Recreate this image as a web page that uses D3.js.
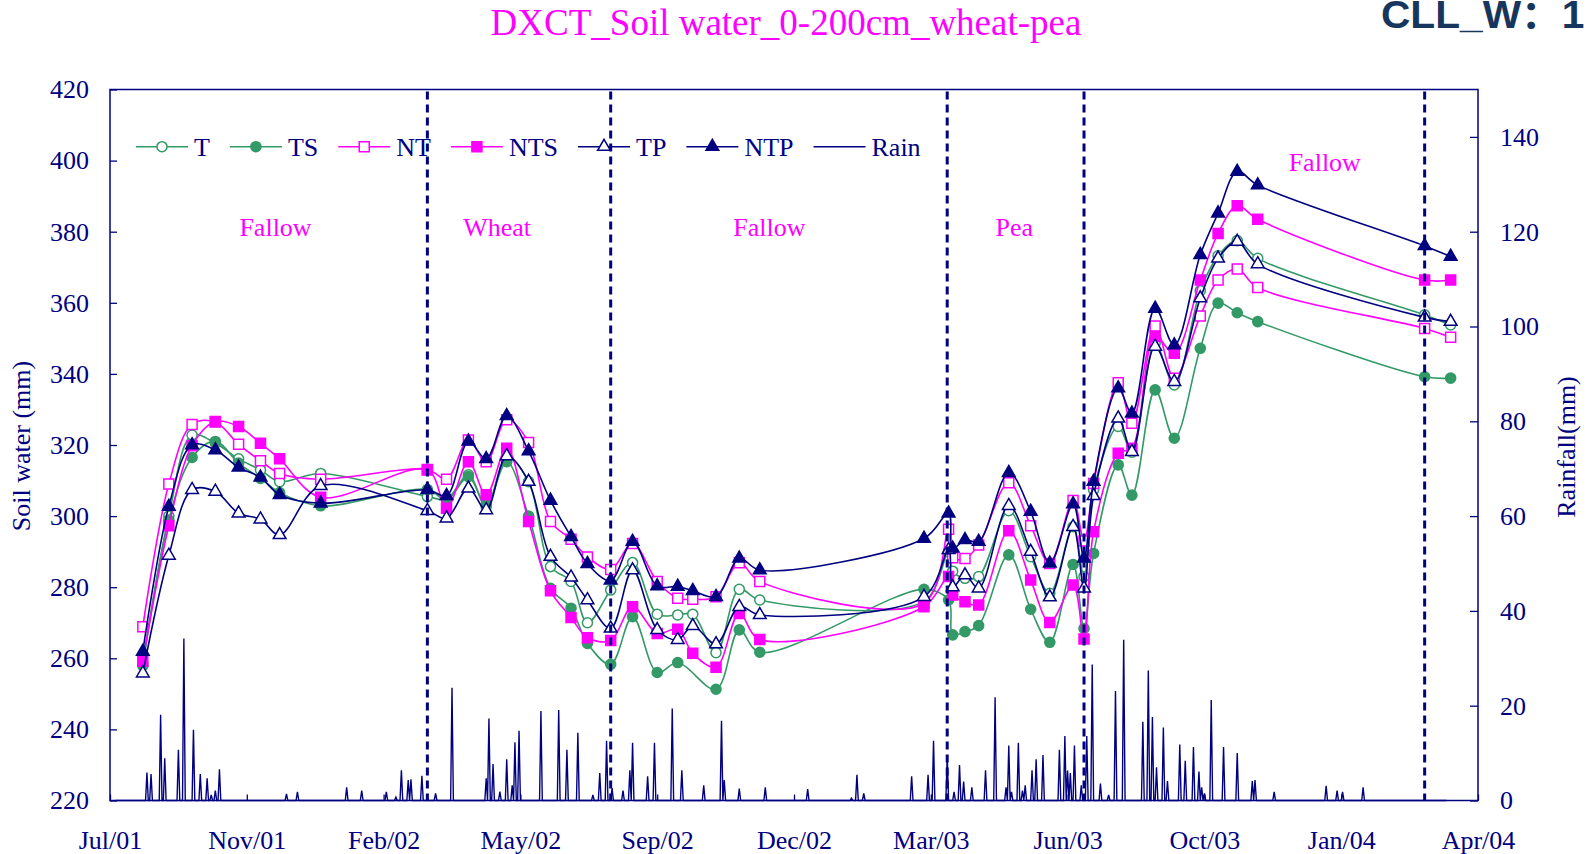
<!DOCTYPE html>
<html><head><meta charset="utf-8">
<script src="https://cdn.jsdelivr.net/npm/d3@7"></script>
<style>body{margin:0;background:#fff;overflow:hidden} svg{display:block}</style>
</head><body>
<svg id="chart" width="1594" height="854"></svg>
<script>
// ---------------- DATA ----------------
const sampleDates = ["2001-08-21","2001-09-09","2001-09-26","2001-10-13","2001-10-30","2001-11-15","2001-11-29","2001-12-29",
 "2002-03-17","2002-03-31","2002-04-16","2002-04-29","2002-05-14","2002-05-30","2002-06-15","2002-06-30","2002-07-12","2002-07-29",
 "2002-08-14","2002-09-01","2002-09-16","2002-09-27","2002-10-14","2002-10-31","2002-11-15",
 "2003-03-15","2003-04-02","2003-04-05","2003-04-14","2003-04-24","2003-05-16","2003-06-01","2003-06-15","2003-07-02","2003-07-10","2003-07-17",
 "2003-08-04","2003-08-14","2003-08-31","2003-09-14","2003-10-03","2003-10-16","2003-10-30","2003-11-14","2004-03-15","2004-04-03"];
const T   = [258.5,300.0,322.8,320.5,316.1,313.0,309.7,312.0, 305.5,304.8,311.6,302.7,316.5,309.7,285.8,281.6,270.0,279.2,
 286.9,272.4,272.2,272.4,261.6,279.4,276.4, 276.0,290.0,284.5,282.5,283.0,301.5,288.6,278.3,297.0,283.0,307.4,
 325.2,318.0,348.6,336.9,363.4,373.2,377.5,372.5,356.6,353.8];
const TS  = [257.9,298.9,316.5,321.0,314.9,310.6,306.6,302.9, 307.5,304.5,311.1,303.1,315.3,300.0,279.7,274.1,264.2,258.3,
 271.7,256.0,258.8,null,251.3,268.0,261.7, 279.4,276.4,266.6,267.5,269.2,289.1,273.8,264.5,286.4,268.4,289.5,
 314.4,305.9,335.5,321.9,347.2,359.9,357.2,354.7,339.2,338.8];
const NT  = [268.9,309.0,325.8,326.5,320.2,315.6,312.0,310.4, 313.1,310.4,321.4,315.3,327.1,320.7,298.5,293.5,288.5,285.0,
 292.3,281.6,276.9,276.6,277.3,286.9,281.6, 275.5,296.3,288.3,288.1,291.9,309.4,297.3,286.7,304.4,293.0,309.2,
 337.5,326.1,353.5,338.8,356.3,366.4,369.5,364.3,352.8,350.3];
const NTS = [259.2,297.3,319.8,326.6,325.2,320.5,316.1,305.3, 313.0,302.2,315.3,306.0,319.1,298.5,279.0,271.5,265.8,265.0,
 274.5,267.0,268.2,261.4,257.5,272.6,265.3, 274.5,283.0,277.8,275.9,275.0,295.9,282.0,270.1,280.6,265.4,295.6,
 317.7,319.1,350.5,345.8,366.4,379.5,387.3,383.5,366.4,366.4];
const TP  = [255.8,288.9,307.4,306.9,300.8,299.1,294.7,308.5, 301.5,299.4,307.8,301.7,316.9,309.7,288.6,282.8,276.4,268.4,
 284.8,268.0,265.2,269.1,264.0,274.5,272.2, 277.3,290.5,280.0,283.4,279.7,302.9,290.0,277.2,297.0,279.7,305.7,
 327.5,318.1,347.7,337.8,361.3,372.5,377.2,370.9,355.9,354.7];
const NTP = [261.9,302.7,320.0,318.6,313.7,310.9,306.0,303.6, 307.4,305.7,321.0,316.1,328.2,318.3,304.4,294.2,286.6,281.9,
 292.8,280.3,280.2,279.0,277.3,288.1,284.8, 293.7,300.8,290.9,293.3,292.8,312.2,301.3,286.7,303.4,288.1,309.7,
 336.0,328.9,358.4,348.1,373.5,385.2,396.9,393.1,376.0,373.0];

const rainDates = ["2001-08-24","2001-08-27","2001-09-03","2001-09-06","2001-09-16","2001-09-20","2001-09-27","2001-10-02","2001-10-07","2001-10-10","2001-10-13","2001-10-16",
 "2001-12-04","2001-12-12","2002-01-17","2002-01-28","2002-02-15","2002-02-22","2002-02-26","2002-03-03","2002-03-05","2002-03-13","2002-03-23",
 "2002-04-04","2002-04-29","2002-05-01","2002-05-04","2002-05-09","2002-05-14","2002-05-18","2002-05-20","2002-05-23","2002-06-08","2002-06-21","2002-06-27",
 "2002-07-05","2002-07-16","2002-07-21","2002-07-26","2002-07-30","2002-08-07","2002-08-12","2002-08-14","2002-08-25","2002-08-30","2002-09-12","2002-09-19",
 "2002-10-05","2002-10-18","2002-10-20","2002-10-31","2002-11-19","2002-12-20","2003-01-21","2003-01-25","2003-01-30","2003-03-06","2003-03-18","2003-03-22",
 "2003-04-01","2003-04-06","2003-04-10","2003-04-13","2003-04-19","2003-04-29","2003-05-06","2003-05-14","2003-05-16","2003-05-18","2003-05-23","2003-05-26","2003-05-28",
 "2003-06-02","2003-06-05","2003-06-10","2003-06-22","2003-06-26","2003-06-28","2003-06-30","2003-07-03","2003-07-08","2003-07-12","2003-07-16","2003-07-22","2003-07-28",
 "2003-08-02","2003-08-08","2003-08-22","2003-08-26","2003-08-29","2003-09-01","2003-09-06","2003-09-09","2003-09-18","2003-09-22","2003-09-28",
 "2003-10-02","2003-10-04","2003-10-06","2003-10-11","2003-10-20","2003-10-30","2003-11-10","2003-11-12","2003-11-26",
 "2004-01-03","2004-01-11","2004-01-15","2004-01-30"];
const rainValues = [5.9,5.6,18.1,8.9,10.7,34.2,14.9,5.6,4.7,1.2,2.1,6.6,
 1.4,1.8,2.8,2.1,1.8,0.7,6.4,4.3,4.5,5.2,1.5,
 23.8,4.7,17.3,7.7,1.9,8.7,3.2,12.3,14.7,18.9,19.1,10.7,
 14.3,1.2,5.8,12.6,2.6,2.1,6.4,12.2,5.1,12.2,19.4,6.4,
 3.2,16.8,4.3,2.5,2.8,2.4,0.5,5.4,1.5,5.1,5.4,12.6,
 9.3,1.8,7.5,4.0,2.8,6.4,21.8,2.8,11.6,1.8,12.2,2.1,3.2,
 6.4,8.7,9.6,10.7,13.6,6.3,5.8,11.6,3.2,13.6,28.7,3.6,1.2,
 23.1,33.9,16.6,27.4,17.6,7.0,15.4,4.1,11.8,8.4,11.3,
 6.1,2.8,1.5,21.2,11.3,10.0,4.1,4.3,1.8,
 3.1,2.1,1.8,2.8];
const rainStart = "2001-08-01", rainEnd = "2004-03-31";

const boundaryDates = ["2002-03-17","2002-07-29","2003-04-01","2003-07-10","2004-03-15"];
const stageNames  = ["Fallow","Wheat","Fallow","Pea","Fallow"];
const stageDates  = ["2001-11-26","2002-05-07","2002-11-22","2003-05-20","2004-01-02"];
const stageLevels = [378.8,378.8,378.8,378.8,397.2];

const leftTicks  = [220,240,260,280,300,320,340,360,380,400,420];
const rightTicks = [0,20,40,60,80,100,120,140];
const xTickLabels = ["Jul/01","Nov/01","Feb/02","May/02","Sep/02","Dec/02","Mar/03","Jun/03","Oct/03","Jan/04","Apr/04"];
const xStart = "2001-07-28", xEnd = "2004-04-23", xTickStepDays = 100;

const seriesNames = ["T","TS","NT","NTS","TP","NTP"];
const seriesData  = [T,TS,NT,NTS,TP,NTP];

// ---------------- STYLE ----------------
const GREEN = "#339966", MAG = "#ff00ff", NAVY = "#000080";
const styles = {
  T:   {color:GREEN, sym:d3.symbolCircle,   size:80,  fill:"#fff"},
  TS:  {color:GREEN, sym:d3.symbolCircle,   size:80,  fill:GREEN},
  NT:  {color:MAG,   sym:d3.symbolSquare,   size:100, fill:"#fff"},
  NTS: {color:MAG,   sym:d3.symbolSquare,   size:100, fill:MAG},
  TP:  {color:NAVY,  sym:d3.symbolTriangle, size:70,  fill:"#fff"},
  NTP: {color:NAVY,  sym:d3.symbolTriangle, size:70,  fill:NAVY}
};
const SERIF = "'Liberation Serif','Times New Roman',serif";
const FS = 26;

const svg = d3.select("#chart");
const L = 110, R = 1478, TOP = 89.5, BOT = 800.5;
const parse = d3.utcParse("%Y-%m-%d");
const fmt = d3.utcFormat("%Y-%m-%d");
const x = d3.scaleUtc().domain([parse(xStart), parse(xEnd)]).range([L, R]);
const y = d3.scaleLinear().domain([220, 420]).range([BOT, TOP]);
const yR = d3.scaleLinear().domain([0, 150]).range([BOT, TOP]);

// Title
svg.append("text").attr("x", 786).attr("y", 35).attr("text-anchor","middle")
  .style("font-family", SERIF).style("font-size","37px").attr("fill", MAG)
  .text("DXCT_Soil water_0-200cm_wheat-pea");
svg.append("text").attr("transform","translate(1381,28) scale(1.07,1)").attr("text-anchor","start")
  .style("font-family","'Liberation Sans',Arial,'Noto Sans CJK SC',sans-serif").style("font-weight","bold")
  .style("font-size","38px").attr("fill","#17365d").text("CLL_W：1");

// Frame
svg.append("rect").attr("x",L).attr("y",TOP).attr("width",R-L).attr("height",BOT-TOP)
  .attr("fill","none").attr("stroke",NAVY).attr("stroke-width",1.5);

function styleAxis(g){
  g.select(".domain").remove();
  g.selectAll(".tick line").attr("stroke",NAVY).attr("stroke-width",1.3);
  g.selectAll(".tick text").attr("fill",NAVY).style("font-family",SERIF).style("font-size",FS+"px");
}
svg.append("g").attr("transform",`translate(${L},0)`)
  .call(d3.axisLeft(y).tickValues(leftTicks).tickSizeInner(-7).tickSizeOuter(0).tickPadding(21).tickFormat(d3.format("d")))
  .call(styleAxis);
svg.append("g").attr("transform",`translate(${R},0)`)
  .call(d3.axisRight(yR).tickValues(rightTicks).tickSizeInner(-8).tickSizeOuter(0).tickPadding(22).tickFormat(d3.format("d")))
  .call(styleAxis);
const xTicks = xTickLabels.map((_, i) => d3.utcDay.offset(parse(xStart), i * xTickStepDays));
svg.append("g").attr("transform",`translate(0,${BOT})`)
  .call(d3.axisBottom(x).tickValues(xTicks).tickSizeInner(-6).tickSizeOuter(0).tickPadding(30)
    .tickFormat((d,i) => xTickLabels[i]))
  .call(styleAxis);

// Axis titles
svg.append("text").attr("transform","translate(30,446) rotate(-90)").attr("text-anchor","middle")
  .style("font-family",SERIF).style("font-size",FS+"px").attr("fill",NAVY).text("Soil water (mm)");
svg.append("text").attr("transform","translate(1575,447) rotate(-90)").attr("text-anchor","middle")
  .style("font-family",SERIF).style("font-size",FS+"px").attr("fill",NAVY).text("Rainfall(mm)");

// Rain (daily series built from event table)
const rainMap = new Map(rainDates.map((d,i)=>[d, rainValues[i]]));
const rainDays = d3.utcDay.range(parse(rainStart), d3.utcDay.offset(parse(rainEnd),1));
const rainDaily = rainDays.map(d => ({date:d, v: rainMap.has(fmt(d)) ? rainMap.get(fmt(d)) : 0}));
svg.append("path").datum(rainDaily)
  .attr("d", d3.line().x(d=>x(d.date)).y(d=>yR(d.v)))
  .attr("fill","none").attr("stroke",NAVY).attr("stroke-width",1.4).attr("stroke-linejoin","miter");

// Series
const line = d3.line().x(d=>x(d.date)).y(d=>y(d.v)).curve(d3.curveCatmullRom.alpha(0.5));
seriesNames.forEach((name, si) => {
  const st = styles[name];
  const pts = sampleDates.map((d,i)=>({date:parse(d), v:seriesData[si][i]})).filter(p => p.v != null);
  const g = svg.append("g");
  g.append("path").datum(pts).attr("d", line).attr("fill","none").attr("stroke",st.color).attr("stroke-width",1.6);
  g.selectAll("path.m").data(pts).enter().append("path").attr("class","m")
    .attr("transform", d => `translate(${x(d.date)},${y(d.v)})`)
    .attr("d", d3.symbol().type(st.sym).size(st.size)())
    .attr("fill", st.fill).attr("stroke", st.color).attr("stroke-width",1.5);
});

// Stage labels
stageNames.forEach((s,i)=>{
  svg.append("text").attr("x", x(parse(stageDates[i]))).attr("y", y(stageLevels[i])).attr("text-anchor","middle")
    .style("font-family",SERIF).style("font-size",FS+"px").attr("fill",MAG).text(s);
});

// Legend
const legendItems = seriesNames.map(n => ({name:n, ...styles[n]})).concat([{name:"Rain", color:NAVY, sym:null}]);
let lx = 136; const ly = 146.7;
legendItems.forEach(it => {
  const g = svg.append("g");
  g.append("line").attr("x1",lx).attr("x2",lx+52).attr("y1",ly).attr("y2",ly).attr("stroke",it.color).attr("stroke-width",1.6);
  if (it.sym) g.append("path").attr("transform",`translate(${lx+26},${ly})`).attr("d", d3.symbol().type(it.sym).size(it.size)())
    .attr("fill",it.fill).attr("stroke",it.color).attr("stroke-width",1.5);
  const t = g.append("text").attr("x",lx+58).attr("y",ly).attr("dy","0.35em")
    .style("font-family",SERIF).style("font-size",FS+"px").attr("fill",NAVY).text(it.name);
  lx = lx + 58 + t.node().getComputedTextLength() + 20;
});

// Crop boundary dashed lines
boundaryDates.forEach(d => {
  svg.append("line").attr("x1",x(parse(d))).attr("x2",x(parse(d))).attr("y1",TOP+2).attr("y2",BOT)
    .attr("stroke",NAVY).attr("stroke-width",3).attr("stroke-dasharray","8,5");
});
</script>
</body></html>
